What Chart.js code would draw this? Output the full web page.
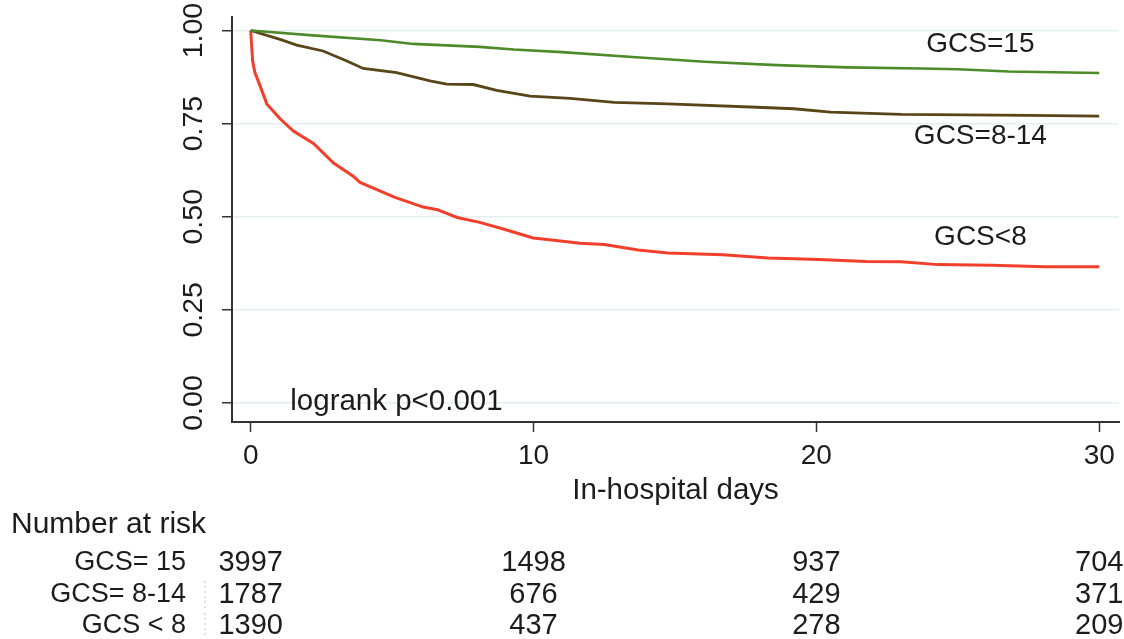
<!DOCTYPE html>
<html>
<head>
<meta charset="utf-8">
<title>In-hospital survival by GCS</title>
<script src="https://cdn.jsdelivr.net/npm/chart.js@4/dist/chart.umd.min.js"></script>
<style>
  html, body { margin: 0; padding: 0; background: #fff; }
  #wrap { width: 1124px; height: 639px; position: relative; }
</style>
</head>
<body>
<div id="wrap"><canvas id="kmChart"></canvas></div>
<script>
// Kaplan-Meier survival estimates, read at the curve's turning points
const gcs15Days = [0, 2.2, 4.6, 5.75, 8.1, 9.3, 11, 13.5, 16.05, 18.6, 21.1, 23.7, 25, 26.8, 30];
const gcs15Surv = [1.0, 0.987, 0.974, 0.964, 0.956, 0.949, 0.942, 0.929, 0.916, 0.907, 0.901, 0.898, 0.896, 0.890, 0.886];

const gcs8to14Days = [0, 1.04, 1.63, 2.56, 3.4, 3.98, 5.16, 6.34, 6.93, 7.87, 8.7, 9.88, 11.3, 12.85, 14.75, 17.9, 19.2, 20.5, 23, 27.5, 30];
const gcs8to14Surv = [1.0, 0.976, 0.961, 0.945, 0.918, 0.898, 0.887, 0.865, 0.856, 0.855, 0.839, 0.824, 0.818, 0.807, 0.803, 0.794, 0.790, 0.781, 0.775, 0.772, 0.770];

const gcsLt8Days = [0, 0.07, 0.15, 0.33, 0.57, 1.04, 1.51, 2.22, 2.93, 3.64, 3.87, 5.1, 6.1, 6.6, 7.3, 8.1, 8.93, 9.99, 10.8, 11.65, 12.5, 13.7, 14.75, 16.7, 18.3, 20.1, 21.75, 23, 24.3, 26.2, 28.1, 30];
const gcsLt8Surv = [1.0, 0.918, 0.887, 0.852, 0.803, 0.763, 0.730, 0.697, 0.644, 0.608, 0.592, 0.552, 0.526, 0.519, 0.498, 0.485, 0.467, 0.443, 0.436, 0.429, 0.4255, 0.411, 0.403, 0.398, 0.389, 0.385, 0.380, 0.379, 0.3715, 0.370, 0.366, 0.366];

const xTicks = [0, 10, 20, 30];
const yTicks = [0, 0.25, 0.5, 0.75, 1.0];

// number at risk table
const riskRowLabels = ['GCS= 15', 'GCS= 8-14', 'GCS < 8'];
const riskGcs15 = [3997, 1498, 937, 704];
const riskGcs8to14 = [1787, 676, 429, 371];
const riskGcsLt8 = [1390, 437, 278, 209];

const FONT = "'Liberation Sans', Arial, Helvetica, sans-serif";
const INK = '#1c1c1c';

const toPoints = (xs, ys) => xs.map((x, i) => ({ x, y: ys[i] }));

// curve labels and the test result, placed in data coordinates
const curveNotes = [
  { text: 'GCS=15', x: 25.8, y: 0.964, align: 'center', size: 28 },
  { text: 'GCS=8-14', x: 25.8, y: 0.717, align: 'center', size: 28 },
  { text: 'GCS<8', x: 25.8, y: 0.444, align: 'center', size: 28 },
  { text: 'logrank p<0.001', x: 1.4, y: 0.003, align: 'left', size: 29.5 }
];

const notesPlugin = {
  id: 'kmNotes',
  afterDraw(chart) {
    const { ctx, scales: { x, y } } = chart;
    ctx.save();
    ctx.fillStyle = INK;
    ctx.textBaseline = 'middle';
    curveNotes.forEach(n => {
      ctx.font = `${n.size}px ${FONT}`;
      ctx.textAlign = n.align;
      ctx.fillText(n.text, x.getPixelForValue(n.x), y.getPixelForValue(n.y));
    });

    // risk table under the x axis
    ctx.font = `30px ${FONT}`;
    ctx.textAlign = 'left';
    ctx.fillText('Number at risk', 11, 525);
    const rows = [riskGcs15, riskGcs8to14, riskGcsLt8];
    const rowY = [563, 595, 626];
    rows.forEach((vals, r) => {
      ctx.font = `27px ${FONT}`;
      ctx.textAlign = 'right';
      ctx.fillText(riskRowLabels[r], 186, rowY[r]);
      ctx.font = `29px ${FONT}`;
      ctx.textAlign = 'center';
      vals.forEach((v, i) => ctx.fillText(String(v), x.getPixelForValue(xTicks[i]), rowY[r]));
    });

    // faint separators left of the first column
    ctx.strokeStyle = '#e2e2e2';
    ctx.lineWidth = 2;
    ctx.setLineDash([2, 3]);
    ctx.beginPath();
    ctx.moveTo(205, 581); ctx.lineTo(205, 608);
    ctx.moveTo(205, 613); ctx.lineTo(205, 638);
    ctx.stroke();
    ctx.restore();
  }
};

const ctx = document.getElementById('kmChart').getContext('2d');
new Chart(ctx, {
  type: 'line',
  data: {
    datasets: [
      { label: 'GCS=15', data: toPoints(gcs15Days, gcs15Surv), borderColor: '#4d8a2a', borderWidth: 2.6 },
      { label: 'GCS=8-14', data: toPoints(gcs8to14Days, gcs8to14Surv), borderColor: '#5a4518', borderWidth: 2.8 },
      { label: 'GCS<8', data: toPoints(gcsLt8Days, gcsLt8Surv), borderColor: '#f23f2c', borderWidth: 3 }
    ]
  },
  options: {
    responsive: true,
    maintainAspectRatio: false,
    animation: false,
    elements: { point: { radius: 0 }, line: { tension: 0 } },
    layout: { padding: { top: 16, right: 5, left: 0, bottom: 0 } },
    plugins: { legend: { display: false }, tooltip: { enabled: false } },
    scales: {
      x: {
        type: 'linear',
        min: -0.66,
        max: 30.7,
        afterBuildTicks: s => { s.ticks = xTicks.map(v => ({ value: v })); },
        afterFit: s => { s.height = 217; },
        grid: { drawOnChartArea: false, tickColor: '#333', tickLength: 10, tickWidth: 1.5 },
        border: { color: '#333', width: 2 },
        ticks: { color: INK, font: { family: FONT, size: 28 }, padding: 7, maxRotation: 0 },
        title: {
          display: true,
          text: 'In-hospital days',
          color: INK,
          font: { family: FONT, size: 29.5 },
          padding: { top: 0, bottom: 130 }
        }
      },
      y: {
        min: -0.051,
        max: 1.036,
        afterBuildTicks: s => { s.ticks = yTicks.map(v => ({ value: v })); },
        afterFit: s => { s.width = 232; },
        grid: { color: '#e4eff2', lineWidth: 1.5, tickColor: '#333', tickLength: 10, tickWidth: 1.5 },
        border: { color: '#333', width: 2 },
        ticks: {
          color: INK,
          font: { family: FONT, size: 28.5 },
          padding: 0,
          minRotation: 90,
          maxRotation: 90,
          crossAlign: 'center',
          callback: v => v.toFixed(2)
        }
      }
    }
  },
  plugins: [notesPlugin]
});
</script>
</body>
</html>
